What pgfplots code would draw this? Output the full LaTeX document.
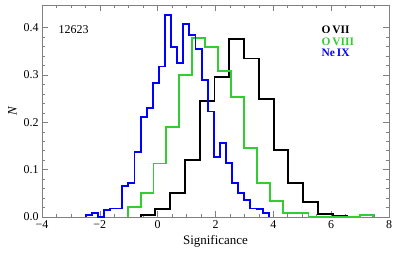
\documentclass[border=0pt]{standalone}
\usepackage{pgfplots}
\pgfplotsset{compat=1.18}
\usepackage{fontspec}
\setmainfont{Liberation Serif}
\definecolor{hgreen}{RGB}{50,205,50}
\definecolor{hblue}{RGB}{0,0,255}
\begin{document}
\begin{tikzpicture}
\begin{axis}[name=ax, scale only axis, width=347bp, height=212bp,
  xmin=-4, xmax=8, ymin=0, ymax=0.448,
  axis line style={draw=gray, line width=0.8pt},
  xtick={-4,-2,0,2,4,6,8}, xticklabels={−4,−2,0,2,4,6,8},
  minor x tick num=3,
  ytick={0,0.1,0.2,0.3,0.4}, yticklabels={0.0,0.1,0.2,0.3,0.4},
  minor y tick num=4,
  tick align=inside, major tick length=6bp, minor tick length=3bp,
  every tick/.style={draw=gray, line width=0.6pt},
  ticklabel style={font=\fontsize{12}{12}\selectfont},
  xlabel={Significance}, ylabel={\textit{N}},
  label style={font=\fontsize{13}{13}\selectfont},
  clip=false,
  every axis plot post/.append style={const plot mark left, line width=1.9bp, no markers, line join=miter},
]
% black: O VII
\addplot[black] coordinates {
(-0.588,0) (-0.588,0.004) (-0.077,0.016) (0.434,0.051) (0.945,0.120)
(1.456,0.246) (1.967,0.295) (2.477,0.376) (2.988,0.335) (3.499,0.249)
(4.010,0.142) (4.521,0.072) (5.032,0.032) (5.543,0.006) (6.054,0.002)
(6.565,0)};
% green: O VIII
\addplot[hgreen] coordinates {
(-1.038,0) (-1.038,0.021) (-0.591,0.050) (-0.145,0.113) (0.302,0.190)
(0.749,0.301) (1.196,0.378) (1.642,0.360) (2.089,0.309) (2.536,0.253)
(2.982,0.145) (3.429,0.071) (3.876,0.034) (4.322,0.009) (4.769,0.009)
(5.216,0) (5.663,0) (6.109,0) (6.556,0) (7.003,0.004) (7.449,0)};
% blue: Ne IX
\addplot[hblue] coordinates {
(-2.490,0) (-2.490,0.004) (-2.279,0.009) (-2.068,0) (-1.857,0.014)
(-1.646,0.018) (-1.435,0.018) (-1.224,0.066) (-1.013,0.071) (-0.802,0.137)
(-0.591,0.212) (-0.380,0.231) (-0.169,0.284) (0.042,0.318) (0.253,0.426)
(0.464,0.359) (0.675,0.326) (0.886,0.407) (1.097,0.384) (1.308,0.355)
(1.519,0.289) (1.730,0.223) (1.941,0.127) (2.152,0.156) (2.363,0.115)
(2.574,0.071) (2.785,0.050) (2.996,0.036) (3.207,0.018) (3.418,0.017)
(3.629,0.008) (3.840,0)};
\node[anchor=west, font=\fontsize{12}{12}\selectfont, inner sep=0pt] at (axis cs:-3.43,0.397) {12623};
\node[anchor=west, font=\bfseries\fontsize{11.5}{11.5}\selectfont, inner sep=0pt, text=black] at (axis cs:5.66,0.395) {O\,VII};
\node[anchor=west, font=\bfseries\fontsize{11.5}{11.5}\selectfont, inner sep=0pt, text=hgreen] at (axis cs:5.66,0.371) {O\,VIII};
\node[anchor=west, font=\bfseries\fontsize{11.5}{11.5}\selectfont, inner sep=0pt, text=hblue] at (axis cs:5.66,0.346) {Ne\,IX};
\end{axis}
\pgfresetboundingbox
\path ([shift={(-42bp,-37bp)}]ax.south west) rectangle ([shift={(10bp,5bp)}]ax.north east);
\end{tikzpicture}
\end{document}
